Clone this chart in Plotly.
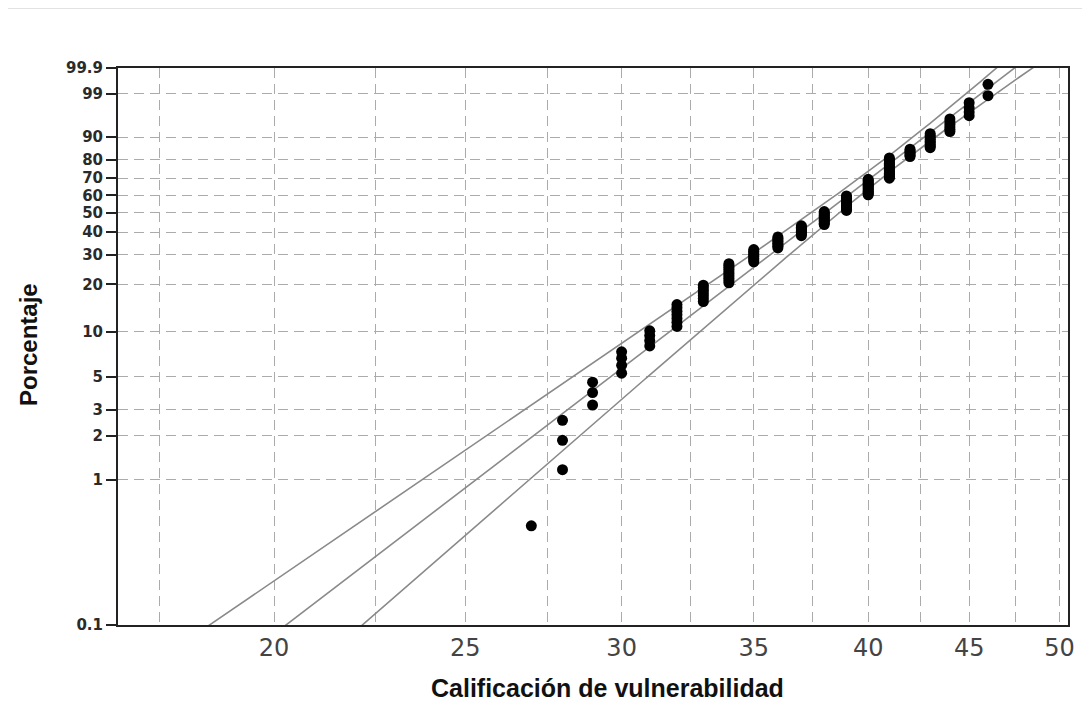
import numpy as np
import plotly.graph_objects as go

# ---- data ----
scores = [27, 28, 29, 30, 31, 32, 33, 34, 35, 36, 37, 38, 39, 40, 41, 42, 43, 44, 45, 46]
counts = [1, 3, 3, 4, 4, 7, 7, 10, 8, 8, 8, 11, 13, 14, 17, 6, 9, 6, 4, 2]

# fitted Weibull line and its 95% band
shape_beta = 10.40
scale_eta = 39.40
ci_min_halfwidth = 0.0125   # in ln(x) units at the narrowest point
ci_curvature = 0.000141
ci_center_w = 0.514

pct_ticks = [0.1, 1, 2, 3, 5, 10, 20, 30, 40, 50, 60, 70, 80, 90, 99, 99.9]
pct_labels = ["0.1", "1", "2", "3", "5", "10", "20", "30", "40", "50", "60", "70", "80", "90", "99", "99.9"]
x_grid = [17.5, 20, 22.5, 25, 27.5, 30, 32.5, 35, 37.5, 40, 42.5, 45, 47.5, 50]
x_labels = ["", "20", "", "25", "", "30", "", "35", "", "40", "", "45", "", "50"]

x_title = "Calificación de vulnerabilidad"
y_title = "Porcentaje"


def wtrans(p):
    return np.log(-np.log(1.0 - np.asarray(p, dtype=float)))


# plotting positions (median ranks)
n = sum(counts)
xs, ws = [], []
rank = 0
for s, c in zip(scores, counts):
    for _ in range(c):
        rank += 1
        xs.append(s)
        ws.append(float(wtrans((rank - 0.3) / (n + 0.4))))

# fitted line and bands
wline = np.linspace(-7.5, 2.6, 300)
lnx = np.log(scale_eta) + wline / shape_beta
hw = np.sqrt(ci_min_halfwidth ** 2 + ci_curvature * (wline - ci_center_w) ** 2)

line_style = dict(color="#8a8a8a", width=1.6)
fig = go.Figure()
for arr in (lnx - hw, lnx, lnx + hw):
    fig.add_trace(go.Scatter(x=np.exp(arr), y=wline, mode="lines", line=line_style,
                             hoverinfo="skip", showlegend=False))
fig.add_trace(go.Scatter(x=xs, y=ws, mode="markers",
                         marker=dict(color="black", size=11, symbol="circle", line=dict(width=0)),
                         showlegend=False))

OFF = 8  # page offset of the figure
W, H = 1090, 710
L, R, T, B = 118 - OFF, 22 + OFF, 68 - OFF, 85 + OFF
pw, ph = W - L - R, H - T - B


def px_x(px):
    return (px - OFF - L) / pw


def px_y(py):
    return (H - B - (py - OFF)) / ph


grid = dict(showgrid=True, gridcolor="#ababab", griddash="10px,6px", gridwidth=1.3)

fig.update_layout(
    width=W, height=H,
    margin=dict(l=L, r=R, t=T, b=B),
    paper_bgcolor="white", plot_bgcolor="white",
    showlegend=False,
    xaxis=dict(
        type="log",
        range=[np.log10(16.67), np.log10(50.5)],
        tickmode="array", tickvals=x_grid, ticktext=x_labels,
        showline=True, linecolor="#222", linewidth=2, mirror=True,
        ticks="", zeroline=False,
        tickfont=dict(family="DejaVu Sans", size=24, color="#444"),
        **grid,
    ),
    yaxis=dict(
        range=[float(wtrans(0.001)), float(wtrans(0.999))],
        tickmode="array", tickvals=[float(wtrans(p / 100)) for p in pct_ticks], ticktext=pct_labels,
        showline=True, linecolor="#222", linewidth=2, mirror=True,
        ticks="outside", ticklen=10, tickwidth=2, tickcolor="#222",
        zeroline=False,
        tickfont=dict(family="DejaVu Sans", size=15, color="#2a2a2a", weight="bold"),
        **grid,
    ),
    annotations=[
        dict(text=x_title, xref="paper", yref="paper", x=px_x(607), y=px_y(688),
             showarrow=False, xanchor="center", yanchor="middle",
             font=dict(family="Liberation Sans Narrow, Liberation Sans, Arial", size=25, color="#111", weight="bold")),
        dict(text=y_title, xref="paper", yref="paper", x=px_x(28), y=px_y(345),
             showarrow=False, xanchor="center", yanchor="middle", textangle=-90,
             font=dict(family="Liberation Sans Narrow, Liberation Sans, Arial", size=24, color="#111", weight="bold")),
    ],
    shapes=[
        dict(type="line", xref="paper", yref="paper", x0=px_x(0), x1=px_x(W), y0=px_y(8), y1=px_y(8),
             line=dict(color="#e2e2e2", width=2)),
    ],
)

fig.write_html("out.html")
